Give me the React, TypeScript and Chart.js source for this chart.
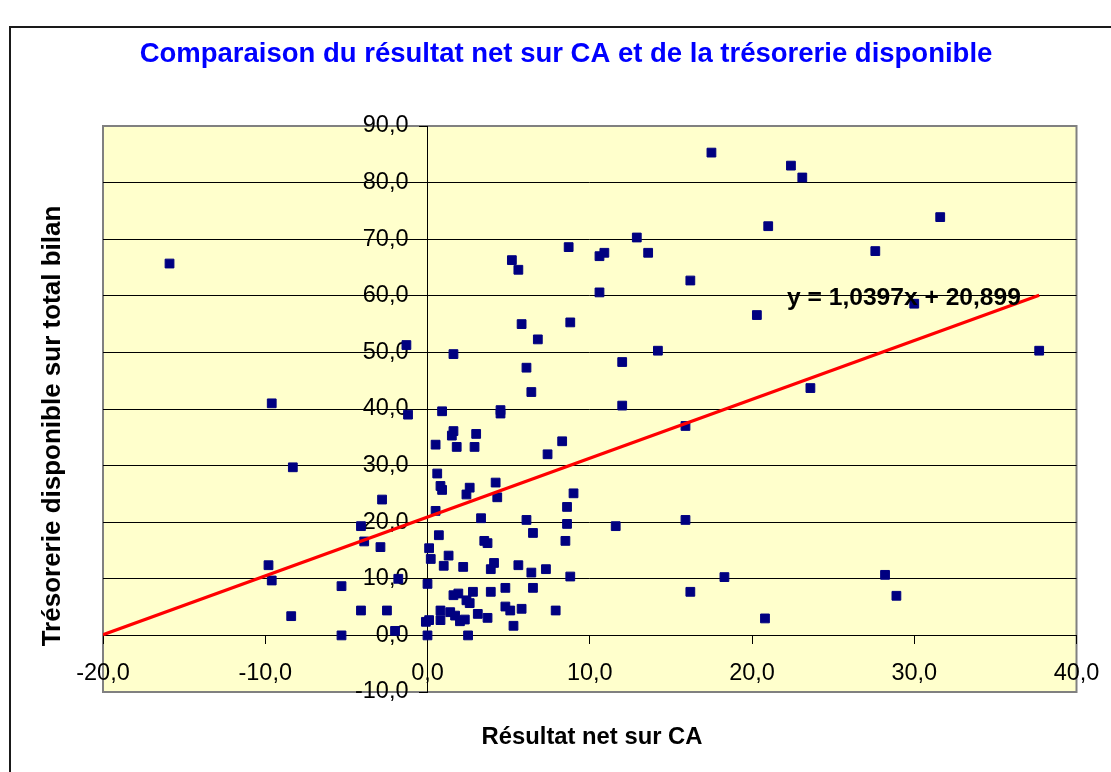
import React, { useEffect, useRef } from 'react';
import { Chart, registerables } from 'chart.js';

Chart.register(...registerables);

// Résultat net sur CA (x) and Trésorerie disponible sur total bilan (y)
const resultatNetSurCA: number[] = [
  -15.9, -1.3, -9.6, -1.2, -8.3, -2.8, -4.1, -3.9, -2.9, -9.8,
  -9.6, -5.3, -1.8, -8.4, -4.1, -2.5, -5.3, -2.0, 0.0, 0.0,
  -0.1, 0.1, 6.8, 1.6, 6.1, 6.4, 0.9, 4.5, 4.5, 1.6,
  1.5, 3.0, 0.5, 1.8, 2.9, 8.3, 7.4, 0.6, 0.8, 0.9,
  2.6, 4.2, 9.0, 2.4, 4.3, 8.6, 0.5, 3.3, 6.1, 8.6,
  0.7, 6.5, 8.5, 3.5, 3.7, 0.1, 0.2, 1.3, 1.0, 2.2,
  4.1, 3.9, 5.6, 6.4, 7.3, 8.8, 1.6, 1.9, 2.8, 3.9,
  4.8, 6.5, 2.4, 2.6, 4.8, 5.1, 5.8, 7.9, 0.8, 1.4,
  1.7, 0.8, 2.0, 2.3, 3.1, 3.7, 5.3, 2.5, 17.5, 12.9,
  8.7, 5.2, 5.6, 10.6, 10.9, 13.6, 10.6, 16.2, 20.3, 5.8,
  8.8, 14.2, 12.0, 12.0, 15.9, 22.4, 23.1, 21.0, 31.6, 27.6,
  30.0, 37.7, 23.6, 15.9, 11.6, 18.3, 16.2, 20.8, 28.2, 28.9,
];

const tresorerieSurBilan: number[] = [
  65.7, 51.3, 41.0, 39.0, 29.7, 24.0, 19.3, 16.6, 15.6, 12.4,
  9.7, 8.7, 10.0, 3.4, 4.4, 4.4, 0.0, 0.8, 0.0, 9.1,
  2.4, 2.7, 52.3, 49.7, 47.3, 43.0, 39.6, 39.8, 39.2, 36.1,
  35.3, 35.6, 33.7, 33.3, 33.3, 34.3, 32.0, 28.6, 26.4, 25.7,
  26.1, 27.0, 25.1, 24.9, 24.4, 22.7, 22.0, 20.7, 20.4, 19.7,
  17.7, 18.1, 16.7, 16.7, 16.3, 15.4, 13.5, 14.1, 12.3, 12.1,
  12.8, 11.7, 12.4, 11.1, 11.7, 10.4, 7.1, 7.4, 7.7, 7.7,
  8.4, 8.4, 6.2, 5.7, 5.1, 4.4, 4.7, 4.4, 4.4, 4.1,
  3.5, 2.7, 2.5, 2.8, 3.8, 3.1, 1.7, 0.0, 85.3, 70.3,
  68.6, 66.3, 64.6, 67.0, 67.6, 67.6, 60.6, 62.7, 56.6, 55.0,
  55.3, 50.3, 48.3, 40.6, 37.0, 83.0, 80.9, 72.3, 73.9, 67.9,
  58.6, 50.3, 43.7, 20.4, 19.3, 10.3, 7.7, 3.0, 10.7, 7.0,
];

// Linear trend line shown on the chart: y = 1,0397x + 20,899
const TREND_SLOPE = 1.0397;
const TREND_INTERCEPT = 20.899;
const TREND_X_RANGE: number[] = [-20, 37.7];

const X_MIN = -20;
const X_MAX = 40;
const Y_MIN = -10;
const Y_MAX = 90;
const TICK_STEP = 10;

const CHART_TITLE = 'Comparaison du résultat net sur CA et de la trésorerie disponible';
const X_TITLE = 'Résultat net sur CA';
const Y_TITLE = 'Trésorerie disponible sur total bilan';
const EQUATION_LABEL = 'y = 1,0397x + 20,899';

const FONT = "'Liberation Sans', Arial, Helvetica, sans-serif";
const fmt = (v: number) => Number(v).toFixed(1).replace('.', ',');

const framePlugin = {
  id: 'framePlugin',
  beforeDraw(chart: any) {
    const { ctx, chartArea: a } = chart;
    ctx.save();
    ctx.fillStyle = '#ffffff';
    ctx.fillRect(0, 0, chart.width, chart.height);
    ctx.strokeStyle = '#1a1a1a';
    ctx.lineWidth = 2;
    ctx.strokeRect(10, 27, chart.width + 40, chart.height + 40);
    ctx.fillStyle = '#FFFFCC';
    ctx.fillRect(a.left, a.top, a.right - a.left, a.bottom - a.top);
    ctx.strokeStyle = '#808080';
    ctx.lineWidth = 2;
    ctx.strokeRect(a.left, a.top, a.right - a.left, a.bottom - a.top);
    ctx.restore();

    // y tick labels sit to the left of the y axis (which crosses at x = 0)
    const ys: any = chart.scales.y;
    const xs: any = chart.scales.x;
    if (ys && xs && typeof ys.getLabelItems === 'function') {
      const axisX = xs.getPixelForValue(0);
      const items = ys.getLabelItems();
      items.forEach((it: any) => {
        it.options.translation[0] = axisX - 19;
        it.options.textAlign = 'right';
      });
    }
  },
  afterDraw(chart: any) {
    const { ctx } = chart;
    ctx.save();
    ctx.textAlign = 'center';
    ctx.textBaseline = 'alphabetic';
    ctx.fillStyle = '#0000FF';
    ctx.font = `bold 27.5px ${FONT}`;
    ctx.fillText(CHART_TITLE, 566, 62);

    ctx.fillStyle = '#000000';
    ctx.font = `bold 23.8px ${FONT}`;
    ctx.fillText(X_TITLE, 592, 744);

    ctx.save();
    ctx.font = `bold 26px ${FONT}`;
    ctx.translate(60, 426);
    ctx.rotate(-Math.PI / 2);
    ctx.fillText(Y_TITLE, 0, 0);
    ctx.restore();

    ctx.textAlign = 'left';
    ctx.font = `bold 24.6px ${FONT}`;
    ctx.fillText(EQUATION_LABEL, 787, 305);
    ctx.restore();
  },
};

export default function App() {
  const canvasRef = useRef<HTMLCanvasElement | null>(null);

  useEffect(() => {
    const canvas = canvasRef.current;
    if (!canvas) return;

    const points = resultatNetSurCA.map((x, i) => ({ x, y: tresorerieSurBilan[i] }));
    const trend = TREND_X_RANGE.map((x) => ({ x, y: TREND_SLOPE * x + TREND_INTERCEPT }));
    const tickFont = { family: FONT, size: 23.5 };

    const chart = new Chart(canvas, {
      type: 'scatter',
      data: {
        datasets: [
          {
            type: 'line',
            label: 'Tendance',
            data: trend,
            borderColor: '#FF0000',
            borderWidth: 3.2,
            pointRadius: 0,
            fill: false,
            order: 0,
          } as any,
          {
            type: 'scatter',
            label: 'Entreprises',
            data: points,
            pointStyle: 'rect',
            pointRadius: 6.2,
            backgroundColor: '#000080',
            borderColor: '#000080',
            borderWidth: 1,
            order: 1,
          } as any,
        ],
      },
      options: {
        animation: false,
        responsive: false,
        events: [],
        layout: { padding: { left: 103, right: 34.5, top: 126, bottom: 80 } },
        plugins: {
          legend: { display: false },
          title: { display: false },
          tooltip: { enabled: false },
        },
        scales: {
          x: {
            type: 'linear',
            position: { y: 0 } as any,
            min: X_MIN,
            max: X_MAX,
            afterFit: (s: any) => {
              s.paddingLeft = 0;
              s.paddingRight = 0;
            },
            ticks: {
              stepSize: TICK_STEP,
              font: tickFont,
              color: '#000',
              padding: 16,
              maxRotation: 0,
              autoSkip: false,
              callback: (v: any) => fmt(v),
            },
            grid: {
              drawOnChartArea: false,
              drawTicks: true,
              tickLength: 8,
              color: '#000',
              tickColor: '#000',
              lineWidth: 1,
            },
            border: { display: true, color: '#000', width: 1 },
          },
          y: {
            type: 'linear',
            position: { x: 0 } as any,
            min: Y_MIN,
            max: Y_MAX,
            afterFit: (s: any) => {
              s.paddingTop = 0;
              s.paddingBottom = 0;
            },
            ticks: {
              stepSize: TICK_STEP,
              font: tickFont,
              color: '#000',
              padding: 11,
              autoSkip: false,
              callback: (v: any) => fmt(v),
            },
            grid: {
              drawOnChartArea: true,
              drawTicks: true,
              tickLength: 8,
              color: (c: any) =>
                c.tick && (c.tick.value === Y_MIN || c.tick.value === Y_MAX) ? 'rgba(0,0,0,0)' : '#000',
              tickColor: '#000',
              lineWidth: 1,
            },
            border: { display: true, color: '#000', width: 1 },
          },
        },
      },
      plugins: [framePlugin],
    });

    return () => chart.destroy();
  }, []);

  return (
    <div style={{ position: 'absolute', left: 0, top: 0, width: 1111, height: 772, background: '#fff' }}>
      <canvas ref={canvasRef} width={1111} height={772} style={{ display: 'block', width: 1111, height: 772 }} />
    </div>
  );
}
